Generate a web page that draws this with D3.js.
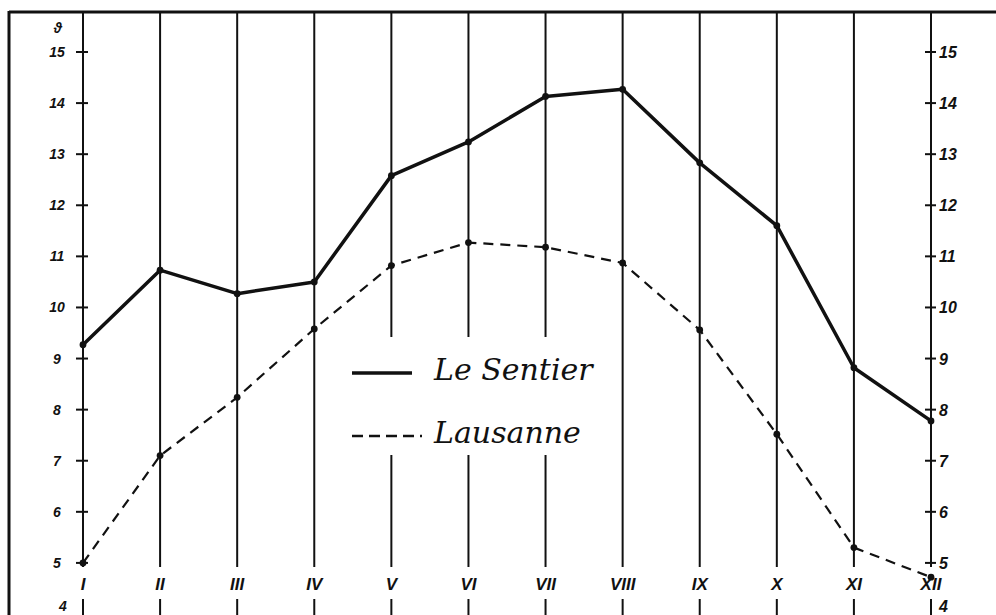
<!DOCTYPE html>
<html><head><meta charset="utf-8">
<script src="https://cdn.jsdelivr.net/npm/d3@7"></script>
<style>html,body{margin:0;padding:0;background:#fff;}svg{display:block;}</style>
</head><body>
<svg id="c" width="996" height="615"></svg>
<script>
const months = ["I","II","III","IV","V","VI","VII","VIII","IX","X","XI","XII"];
const leSentier = [9.27, 10.73, 10.27, 10.5, 12.58, 13.24, 14.13, 14.27, 12.83, 11.6, 8.82, 7.78];
const lausanne = [5.0, 7.1, 8.24, 9.58, 10.82, 11.27, 11.18, 10.87, 9.56, 7.52, 5.3, 4.72];
const yTicks = [4,5,6,7,8,9,10,11,12,13,14,15];
const seriesNames = ["Le Sentier","Lausanne"];

const svg = d3.select("#c");
const W = 996, H = 615;
const x = d3.scalePoint().domain(months).range([83, 931]);
const y = d3.scaleLinear().domain([4, 15]).range([614, 52]);
const ink = "#111";
const labelFont = "'Liberation Sans', Arial, sans-serif";

// frame
svg.append("line").attr("x1", 9).attr("x2", W).attr("y1", 12).attr("y2", 12)
  .attr("stroke", ink).attr("stroke-width", 3);
svg.append("line").attr("x1", 9).attr("x2", 9).attr("y1", 11).attr("y2", H)
  .attr("stroke", ink).attr("stroke-width", 3);

// vertical month lines with gap around labels
const gapTop = y(5) + 4, gapBot = 599;
months.forEach(m => {
  svg.append("line").attr("x1", x(m)).attr("x2", x(m)).attr("y1", 12).attr("y2", gapTop)
    .attr("stroke", ink).attr("stroke-width", 2);
  svg.append("line").attr("x1", x(m)).attr("x2", x(m)).attr("y1", gapBot).attr("y2", H)
    .attr("stroke", ink).attr("stroke-width", 2);
  svg.append("text").attr("x", x(m)).attr("y", 590).attr("text-anchor", "middle")
    .attr("font-family", labelFont).attr("font-style", "italic").attr("font-weight", "bold")
    .attr("font-size", 17).attr("fill", ink).text(m);
});

// axes ticks and labels (left at I, right at XII)
const xl = x(months[0]), xr = x(months[months.length - 1]);
yTicks.forEach(t => {
  const yy = t === 4 ? 606 : y(t);
  if (t !== 4) {
    svg.append("line").attr("x1", xl - 7).attr("x2", xl + 5).attr("y1", y(t)).attr("y2", y(t))
      .attr("stroke", ink).attr("stroke-width", 2);
    svg.append("line").attr("x1", xr - 6).attr("x2", xr + 5).attr("y1", y(t)).attr("y2", y(t))
      .attr("stroke", ink).attr("stroke-width", 2);
  }
  svg.append("text").attr("x", t === 4 ? 63 : 57).attr("y", yy + 5).attr("text-anchor", "middle")
    .attr("font-family", labelFont).attr("font-style", "italic").attr("font-weight", "bold")
    .attr("font-size", 14).attr("fill", ink).text(t);
  svg.append("text").attr("x", xr + 8).attr("y", yy + 6).attr("text-anchor", "start")
    .attr("font-family", labelFont).attr("font-style", "italic").attr("font-weight", "bold")
    .attr("font-size", 16).attr("fill", ink).text(t);
});
svg.append("text").attr("x", 58).attr("y", 33).attr("text-anchor", "middle")
  .attr("font-family", labelFont).attr("font-style", "italic").attr("font-weight", "bold")
  .attr("font-size", 14).attr("fill", ink).text("ϑ");

// legend backdrop
svg.append("rect").attr("x", 345).attr("y", 337).attr("width", 255).attr("height", 118).attr("fill", "#fff");

// series
const line = d3.line().x((d, i) => x(months[i])).y(d => y(d));
svg.append("path").datum(leSentier).attr("d", line).attr("fill", "none")
  .attr("stroke", ink).attr("stroke-width", 3.5).attr("stroke-linejoin", "round");
svg.append("path").datum(lausanne).attr("d", line).attr("fill", "none")
  .attr("stroke", ink).attr("stroke-width", 2.2).attr("stroke-dasharray", "10,7");
[leSentier, lausanne].forEach(s => {
  svg.selectAll(null).data(s).enter().append("circle")
    .attr("cx", (d, i) => x(months[i])).attr("cy", d => y(d)).attr("r", 3.4).attr("fill", ink);
});

// legend
const scriptFont = "'DejaVu Serif', 'Liberation Serif', serif";
svg.append("line").attr("x1", 352).attr("x2", 412).attr("y1", 373).attr("y2", 373)
  .attr("stroke", ink).attr("stroke-width", 3.5);
svg.append("line").attr("x1", 352).attr("x2", 422).attr("y1", 436).attr("y2", 436)
  .attr("stroke", ink).attr("stroke-width", 2.5).attr("stroke-dasharray", "11,6");
svg.append("text").attr("x", 434).attr("y", 380).attr("font-family", scriptFont)
  .attr("font-style", "italic").attr("font-size", 30).attr("fill", ink).text(seriesNames[0]);
svg.append("text").attr("x", 434).attr("y", 443).attr("font-family", scriptFont)
  .attr("font-style", "italic").attr("font-size", 30).attr("fill", ink).text(seriesNames[1]);
</script>
</body></html>
